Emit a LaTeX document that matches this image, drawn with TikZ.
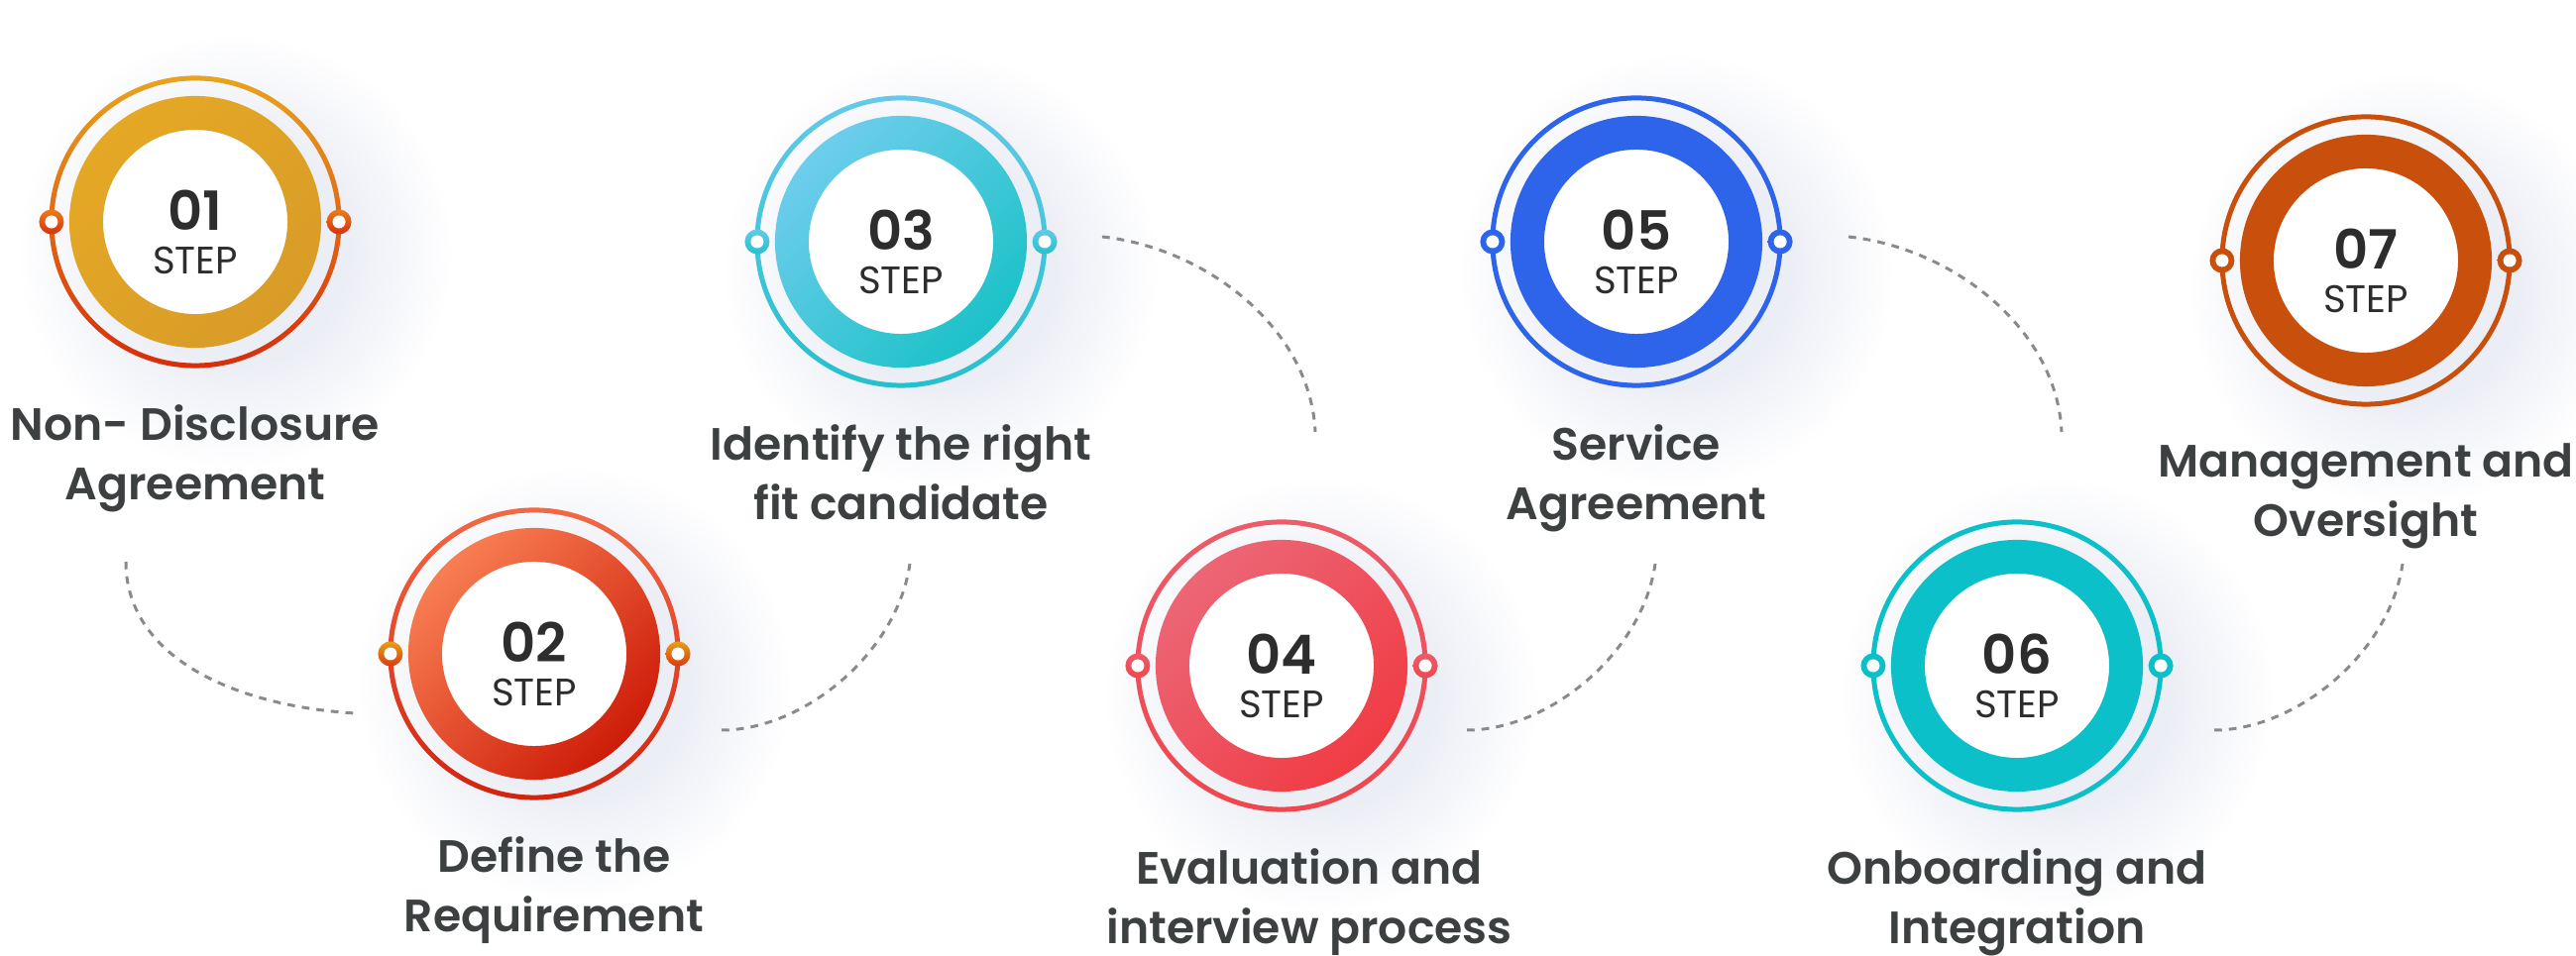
\documentclass[tikz,border=0pt]{standalone}
\usepackage{fontspec}
\setmainfont{Poppins}
\newfontfamily\headfont{Poppins SemiBold}
\usepackage{xcolor}
\definecolor{ink}{RGB}{60,64,65}
\definecolor{numink}{RGB}{45,45,45}
\definecolor{linkgrey}{RGB}{138,138,138}
\definecolor{glowtint}{RGB}{236,238,245}
\definecolor{goldA}{RGB}{229,168,37}
\definecolor{goldB}{RGB}{216,156,40}
\definecolor{oneTop}{RGB}{232,164,30}
\definecolor{oneBot}{RGB}{215,45,12}
\definecolor{oneDotA}{RGB}{235,125,25}
\definecolor{oneDotB}{RGB}{215,50,15}
\definecolor{twoA}{RGB}{248,126,82}
\definecolor{twoB}{RGB}{205,28,8}
\definecolor{twoTop}{RGB}{242,105,70}
\definecolor{twoBot}{RGB}{210,35,15}
\definecolor{twoDotA}{RGB}{232,160,25}
\definecolor{twoDotB}{RGB}{215,60,15}
\definecolor{threeA}{RGB}{110,205,236}
\definecolor{threeB}{RGB}{28,194,200}
\definecolor{threeTop}{RGB}{100,202,232}
\definecolor{threeBot}{RGB}{36,192,206}
\definecolor{fourA}{RGB}{236,102,118}
\definecolor{fourB}{RGB}{240,60,68}
\definecolor{fourTop}{RGB}{236,92,106}
\definecolor{fourBot}{RGB}{240,70,78}
\definecolor{royal}{RGB}{46,100,234}
\definecolor{lagoon}{RGB}{12,192,202}
\definecolor{rust}{RGB}{201,80,12}
\usepackage{tikz}
\usetikzlibrary{positioning,backgrounds}
\pgfdeclareradialshading{stepglow}{\pgfpoint{0bp}{0bp}}{%
  color(0bp)=(glowtint); color(13bp)=(glowtint); color(25bp)=(white);
  color(50bp)=(white)}

\begin{document}
\begin{tikzpicture}[x=0.01cm,y=-0.01cm,
  stepdisk/.style={circle,fill=white,minimum size=1.86cm,inner sep=0pt},
  stepno/.style={font=\headfont\fontsize{15.5}{15.5}\selectfont,
                 text=numink,inner sep=0pt,anchor=base},
  stepword/.style={font=\fontsize{11}{11}\selectfont,
                   text=numink,inner sep=0pt,anchor=base},
  stepname/.style={font=\headfont\fontsize{13}{17}\selectfont,
                   text=ink,align=center,inner sep=0pt},
  link/.style={draw=linkgrey,line width=0.85pt,dash pattern=on 2.2pt off 2pt},
]
  \useasboundingbox (0,0) rectangle (2599,965);

  \node[stepdisk](s1) at (197,224) {};
  \node[stepdisk](s2) at (539,660) {};
  \node[stepdisk](s3) at (909,244) {};
  \node[stepdisk](s4) at (1293,672) {};
  \node[stepdisk](s5) at (1651,244) {};
  \node[stepdisk](s6) at (2035,672) {};
  \node[stepdisk](s7) at (2387,263) {};

  \foreach \i/\ra/\rb/\oa/\ob/\da/\db in {
      1/goldA/goldB/oneTop/oneBot/oneDotA/oneDotB,
      2/twoA/twoB/twoTop/twoBot/twoDotA/twoDotB,
      3/threeA/threeB/threeTop/threeBot/threeTop/threeBot,
      4/fourA/fourB/fourTop/fourBot/fourTop/fourBot,
      5/royal/royal/royal/royal/royal/royal,
      6/lagoon/lagoon/lagoon/lagoon/lagoon/lagoon,
      7/rust/rust/rust/rust/rust/rust}{%
    \shade[even odd rule,top color=\ra,bottom color=\rb,shading angle=45]
      (s\i.center) circle (1.27cm) circle (0.93cm);
    \shade[even odd rule,top color=\oa,bottom color=\ob]
      (s\i.center) circle (1.475cm) circle (1.425cm);
    \foreach \dx in {-1.45cm,1.45cm}{%
      \shade[top color=\da,bottom color=\db]
        ([xshift=\dx]s\i.center) circle (0.125cm);
      \fill[white] ([xshift=\dx]s\i.center) circle (0.065cm);}
    \node[stepno](n\i) at ([yshift=-2.3pt]s\i.center) {0\i};
    \node[stepword](w\i) at ([yshift=-14.9pt]s\i.center) {STEP};
  }

  \begin{scope}[on background layer]
    \foreach \i in {1,...,7}
      \shade[shading=stepglow]
        ([xshift=0.4cm,yshift=-0.3cm]s\i.center) circle (2.2cm);
  \end{scope}

  \node[stepname,below=0.9cm of s1](l1){Non- Disclosure\\Agreement};
  \node[stepname,below=0.9cm of s2,xshift=0.2cm](l2){Define the\\Requirement};
  \node[stepname,below=0.9cm of s3](l3){Identify the right\\fit candidate};
  \node[stepname,below=0.9cm of s4,xshift=0.28cm](l4){Evaluation and\\interview process};
  \node[stepname,below=0.9cm of s5](l5){Service\\Agreement};
  \node[stepname,below=0.9cm of s6](l6){Onboarding and\\Integration};
  \node[stepname,below=0.9cm of s7](l7){Management and\\Oversight};

  \coordinate (k1) at (127,567);  \coordinate (k2) at (358,720);
  \coordinate (k3) at (728,737);  \coordinate (k4) at (918,569);
  \coordinate (k5) at (1112,239); \coordinate (k6) at (1327,436);
  \coordinate (k7) at (1480,737); \coordinate (k8) at (1670,569);
  \coordinate (k9) at (1865,239); \coordinate (k10) at (2080,436);
  \coordinate (k11) at (2234,737); \coordinate (k12) at (2424,569);

  \draw[link] (k1) .. controls +(0,93) and +(-128,-8) .. (k2);
  \draw[link] (k3) .. controls +(82,0) and +(-13,91) .. (k4);
  \draw[link] (k5) .. controls +(103,11) and +(-5,-106) .. (k6);
  \draw[link] (k7) .. controls +(82,0) and +(-13,91) .. (k8);
  \draw[link] (k9) .. controls +(103,11) and +(-5,-106) .. (k10);
  \draw[link] (k11) .. controls +(82,0) and +(-13,91) .. (k12);
\end{tikzpicture}
\end{document}
